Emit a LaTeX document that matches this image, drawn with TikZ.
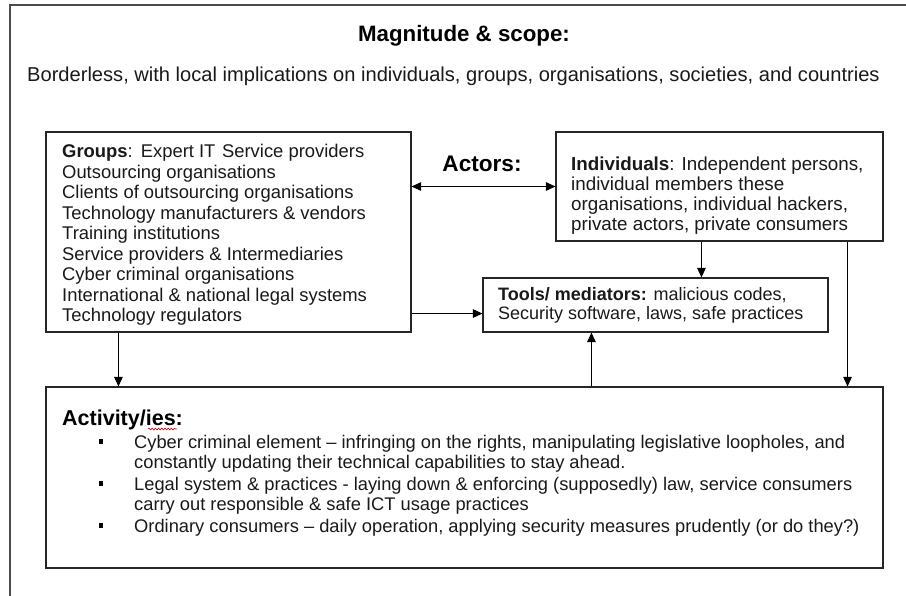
\documentclass[tikz,border=0pt]{standalone}
\usepackage{fontspec}
\setmainfont{Liberation Sans}
\usetikzlibrary{arrows.meta,calc,decorations.pathmorphing}

\begin{document}
\begin{tikzpicture}[x=1pt,y=-1pt,
  >={Triangle[length=9.5pt,width=8.5pt]},
  box/.style={draw=black!85, line width=1.1pt, inner sep=0pt, rectangle},
  txt/.style={anchor=base west, inner sep=0pt, text=black!90, font=\fontsize{18.3}{20}\selectfont},
  head/.style={inner sep=0pt, text=black, font=\fontsize{22.3}{24}\selectfont\bfseries},
  link/.style={draw=black, line width=1pt, ->},
  bullet/.style={fill=black, inner sep=0pt, minimum width=4pt, minimum height=5pt},
]
\useasboundingbox (0,0) rectangle (906,596);

% frame along the top and left edges
\draw[black!70, line width=1.8pt] (10,596) -- (10,5) -- (906,5);

% heading
\node[head, anchor=base] (title) at (464,42) {Magnitude \& scope:};
\node[txt, font=\fontsize{20.1}{22}\selectfont] (scope) at (27,82)
  {Borderless, with local implications on individuals, groups, organisations, societies, and countries};

% boxes
\node[box, minimum width=365pt, minimum height=200pt] (groups) at (228.5,232) {};
\node[box, minimum width=327pt, minimum height=109pt] (indiv) at (719.5,186.5) {};
\node[box, minimum width=345pt, minimum height=54pt] (tools) at (655.5,305) {};
\node[box, minimum width=837pt, minimum height=181pt] (activity) at (464.5,477.5) {};

% groups text
\foreach \t [count=\i] in {
  {\textbf{Groups}:\kern3pt\ Expert IT\kern1.5pt\ Service providers},
  Outsourcing organisations,
  Clients of outsourcing organisations,
  Technology manufacturers \& vendors,
  Training institutions,
  Service providers \& Intermediaries,
  Cyber criminal organisations,
  International \& national legal systems,
  Technology regulators}
  \node[txt, font=\fontsize{18.4}{20}\selectfont] (g\i) at (62,{158+20.5*(\i-1)}) {\t};

% actors label
\node[head, anchor=base, font=\fontsize{22.6}{24}\selectfont\bfseries] (actors) at (482,172) {Actors:};

% individuals text
\foreach \t [count=\i] in {
  {\textbf{Individuals}: Independent persons,},
  {individual members these},
  {organisations, individual hackers,},
  {private actors, private consumers}}
  \node[txt, font=\fontsize{18.8}{20}\selectfont] (n\i) at (571,{171+20*(\i-1)}) {\t};

% tools text
\node[txt, font=\fontsize{18}{20}\selectfont] (t1) at (498,301) {\textbf{Tools/ mediators:} malicious codes,};
\node[txt, font=\fontsize{18}{20}\selectfont] (t2) at (498,320) {Security software, laws, safe practices};

% activities text
\node[head, anchor=base west, font=\fontsize{21.5}{24}\selectfont\bfseries] (acts) at (62,425) {Activity/ies:};
\draw[red!85!black, line width=0.6pt, decorate,
      decoration={snake, amplitude=0.9pt, segment length=3.2pt}]
  ($(acts.base west)+(86,4)$) -- ($(acts.base west)+(115,4)$);

\node[txt] (a1) at (134,448) {Cyber criminal element – infringing on the rights, manipulating legislative loopholes, and};
\node[txt] (a2) at (134,468) {constantly updating their technical capabilities to stay ahead.};
\node[txt] (a3) at (134,490) {Legal system \& practices - laying down \& enforcing (supposedly) law, service consumers};
\node[txt] (a4) at (134,510) {carry out responsible \& safe ICT usage practices};
\node[txt] (a5) at (134,532) {Ordinary consumers – daily operation, applying security measures prudently (or do they?)};

\node[bullet] (b1) at (101,441) {};
\node[bullet] (b2) at (101,483) {};
\node[bullet] (b3) at (101,525) {};

% connectors
\draw[link, <->] (groups.east |- indiv.west) -- (indiv.west);
\coordinate (gt) at ($(groups.south east)+(0,-19)$);
\draw[link] (gt) -- (gt -| tools.west);
\coordinate (it) at ($(indiv.south west)+(146,0)$);
\draw[link] (it) -- (it |- tools.north);
\coordinate (ia) at ($(indiv.south east)+(-36,0)$);
\draw[link] (ia) -- (ia |- activity.north);
\coordinate (at) at ($(activity.north west)+(546,0)$);
\draw[link] (at) -- (at |- tools.south);
\coordinate (ga) at ($(groups.south west)+(73,0)$);
\draw[link] (ga) -- (ga |- activity.north);
\end{tikzpicture}
\end{document}
